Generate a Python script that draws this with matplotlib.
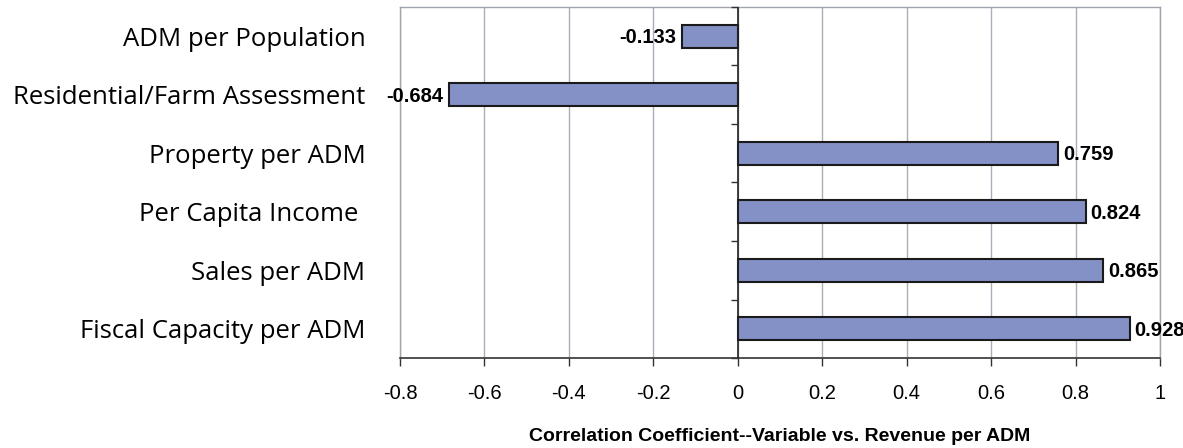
import numpy as np
import matplotlib
matplotlib.use("Agg")
from matplotlib import pyplot as plt
from matplotlib.lines import TICKLEFT

categories = ["ADM per Population", "Residential/Farm Assessment", "Property per ADM",
              "Per Capita Income ", "Sales per ADM", "Fiscal Capacity per ADM"]
values = [-0.133, -0.684, 0.759, 0.824, 0.865, 0.928]
xticks = [-0.8, -0.6, -0.4, -0.2, 0, 0.2, 0.4, 0.6, 0.8, 1]
xticklabels = ["-0.8", "-0.6", "-0.4", "-0.2", "0", "0.2", "0.4", "0.6", "0.8", "1"]
xlabel = "Correlation Coefficient--Variable vs. Revenue per ADM"

bold = "Liberation Sans"

fig = plt.figure(figsize=(11.83, 4.48), dpi=100)
ax = fig.add_axes([400/1183, 1-358/448, 760/1183, 351/448])

y = np.arange(len(categories))
ax.barh(y, values, height=0.4, color="#8491C6", edgecolor="#1a1a1a", linewidth=1.5, zorder=3)

ax.set_xlim(-0.8, 1)
ax.set_ylim(len(categories)-0.5, -0.5)

ax.set_xticks(xticks)
ax.set_xticklabels(xticklabels, family="Liberation Sans", fontsize=14.5)
ax.tick_params(axis="x", direction="out", length=6, width=1, color="#333333", pad=13)
ax.xaxis.grid(True, color="#A9AEBB", linewidth=1, zorder=0)

ax.set_yticks(y)
ax.set_yticklabels(categories, family="Open Sans", fontsize=18.5)
ax.tick_params(axis="y", length=0, pad=25)

for s in ["top", "right", "left"]:
    ax.spines[s].set_color("#A0A4AC")
    ax.spines[s].set_linewidth(1)
ax.spines["bottom"].set_color("#333333")
ax.spines["bottom"].set_linewidth(1.2)

# zero line with category-boundary ticks
ax.axvline(0, color="#222222", linewidth=1.2, zorder=4)
bounds = np.arange(len(categories)+1) - 0.5
ax.plot(np.zeros_like(bounds), bounds, linestyle="none", marker=TICKLEFT,
        markersize=5, markeredgewidth=1, color="#333333", zorder=4, clip_on=False)

for yi, v in zip(y, values):
    if v < 0:
        ax.annotate(f"{v:.3f}", (v, yi), xytext=(-4, -1), textcoords="offset points",
                    ha="right", va="center", fontsize=14.5, fontweight="bold", family=bold, zorder=5)
    else:
        ax.annotate(f"{v:.3f}", (v, yi), xytext=(3.5, -1), textcoords="offset points",
                    ha="left", va="center", fontsize=14.5, fontweight="bold", family=bold, zorder=5)

ax.set_xlabel(xlabel, fontsize=14, fontweight="bold", family=bold, labelpad=18)

fig.savefig("out.png", dpi=100)
